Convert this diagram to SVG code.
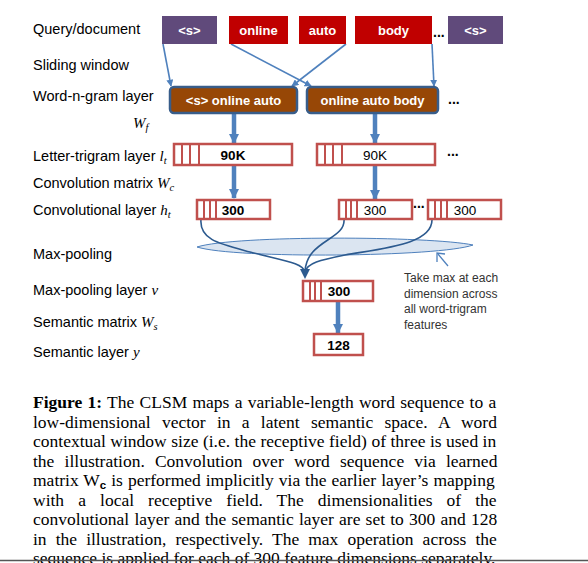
<svg xmlns="http://www.w3.org/2000/svg" width="588" height="563" viewBox="0 0 588 563">
<defs>
<marker id="ah" viewBox="0 0 10 10" refX="9" refY="5" markerWidth="7" markerHeight="7" markerUnits="userSpaceOnUse" orient="auto"><path d="M0,0 L10,5 L0,10 Z" fill="#4F81BD"/></marker>
<marker id="ahT" viewBox="0 0 10 10" refX="9" refY="5" markerWidth="10" markerHeight="10" markerUnits="userSpaceOnUse" orient="auto"><path d="M0,0 L10,5 L0,10 Z" fill="#4F81BD"/></marker>
</defs>
<style>
.lbl{font-family:"Liberation Sans",Arial,sans-serif;font-size:14.5px;fill:#000}
.math{font-family:"Liberation Serif","Times New Roman",serif;font-style:italic;font-size:15px}
.sub{font-family:"Liberation Serif","Times New Roman",serif;font-style:italic;font-size:10.5px}
.wbox{font-family:"Liberation Sans",Arial,sans-serif;font-size:13px;font-weight:bold;fill:#fff;text-anchor:middle}
.red{fill:#C00000}
.pur{fill:#604A7B}
.ng{fill:#974706;stroke:#385D8A;stroke-width:2.5}
.lay{fill:#fff;stroke:#C0504D;stroke-width:2.5}
.stripe{stroke:#C0504D;stroke-width:2}
.num{font-family:"Liberation Sans",Arial,sans-serif;font-size:13.5px;fill:#000;text-anchor:middle}
.b{font-weight:bold}
.dots{font-family:"Liberation Sans",Arial,sans-serif;font-size:14px;font-weight:bold;fill:#000}
.thin{stroke:#4F81BD;stroke-width:1.6;fill:none}
.thick{stroke:#4F81BD;stroke-width:4.5;fill:none}
.curve{stroke:#2C5A8F;stroke-width:1.6;fill:none}
.note{font-family:"Liberation Sans",Arial,sans-serif;font-size:12px;fill:#333}
.cap{font-family:"Liberation Serif","Times New Roman",serif;font-size:17.5px;fill:#000}
</style>
<rect width="588" height="563" fill="#fff"/>

<g id="labels">
<text class="lbl" x="33" y="34">Query/document</text>
<text class="lbl" x="33" y="70">Sliding window</text>
<text class="lbl" x="33" y="101">Word-n-gram layer</text>
<text class="lbl" x="33" y="161">Letter-trigram layer <tspan class="math">l</tspan><tspan class="sub" dy="3">t</tspan></text>
<text class="lbl" x="33" y="188">Convolution matrix <tspan class="math">W</tspan><tspan class="sub" dy="3">c</tspan></text>
<text class="lbl" x="33" y="215">Convolutional layer <tspan class="math">h</tspan><tspan class="sub" dy="3">t</tspan></text>
<text class="lbl" x="33" y="259">Max-pooling</text>
<text class="lbl" x="33" y="295">Max-pooling layer <tspan class="math">v</tspan></text>
<text class="lbl" x="33" y="327">Semantic matrix <tspan class="math">W</tspan><tspan class="sub" dy="3">s</tspan></text>
<text class="lbl" x="33" y="357">Semantic layer <tspan class="math">y</tspan></text>
<text class="math" x="133" y="128">W<tspan class="sub" dy="3">f</tspan></text>
</g>

<g id="connectors">
<line class="thin" x1="163" y1="44" x2="171" y2="86" marker-end="url(#ah)"/>
<line class="thin" x1="231" y1="44" x2="311" y2="86" marker-end="url(#ah)"/>
<line class="thin" x1="346" y1="44" x2="292" y2="86" marker-end="url(#ah)"/>
<line class="thin" x1="432" y1="44" x2="434" y2="86" marker-end="url(#ah)"/>
<line class="thick" x1="234" y1="113" x2="234" y2="143" marker-end="url(#ahT)"/>
<line class="thick" x1="375" y1="113" x2="375" y2="143" marker-end="url(#ahT)"/>
<line class="thick" x1="234" y1="165" x2="234" y2="198" marker-end="url(#ahT)"/>
<line class="thick" x1="375" y1="165" x2="375" y2="199" marker-end="url(#ahT)"/>
<line class="thick" x1="338" y1="301" x2="338" y2="333" marker-end="url(#ahT)"/>
<path d="M197,247 C235,235 430,236 473,245 C440,257 235,259 197,247 Z" fill="#DBE5F1" stroke="#4F81BD" stroke-width="1"/>
<path class="curve" d="M201,219 C199,240 220,244 250,252 C285,261 303,263 305,272"/>
<path class="curve" d="M344,219 C346,240 306,240 305,272"/>
<path class="curve" d="M432,219 C433,244 385,248 345,255 C320,260 307,263 305,272"/>
<path d="M300,269 L310,269 L305,279 Z" fill="#2C5A8F"/>
<line x1="448" y1="266" x2="438" y2="254" stroke="#4F81BD" stroke-width="1.3"/>
<path d="M437,262 L437,253 L445,254" fill="none" stroke="#4F81BD" stroke-width="1.3"/>
</g>

<g id="tok-s1"><rect class="pur" x="162" y="16" width="55" height="28"/><text class="wbox" x="189.5" y="35">&lt;s&gt;</text></g>
<g id="tok-online"><rect class="red" x="229" y="16" width="59" height="28"/><text class="wbox" x="258.5" y="35">online</text></g>
<g id="tok-auto"><rect class="red" x="299" y="16" width="47" height="28"/><text class="wbox" x="322.5" y="35">auto</text></g>
<g id="tok-body"><rect class="red" x="355" y="16" width="77" height="28"/><text class="wbox" x="393.5" y="35">body</text></g>
<g id="tok-dots"><text class="dots" x="433" y="37">...</text></g>
<g id="tok-s2"><rect class="pur" x="448" y="16" width="55" height="28"/><text class="wbox" x="475.5" y="35">&lt;s&gt;</text></g>

<g id="ngram1"><rect class="ng" x="170" y="87" width="127" height="26" rx="4"/><text class="wbox" x="233.5" y="105" font-size="13.5">&lt;s&gt; online auto</text></g>
<g id="ngram2"><rect class="ng" x="307" y="87" width="131" height="26" rx="4"/><text class="wbox" x="372.5" y="105" font-size="13.5">online auto body</text></g>
<g id="ngram-dots"><text class="dots" x="448" y="104">...</text></g>

<g id="trigram1"><rect class="lay" x="174" y="144" width="118" height="21"/><line class="stripe" x1="182" y1="144" x2="182" y2="165"/><line class="stripe" x1="190" y1="144" x2="190" y2="165"/><line class="stripe" x1="199" y1="144" x2="199" y2="165"/><text class="num b" x="233" y="159.5">90K</text></g>
<g id="trigram2"><rect class="lay" x="317" y="144" width="118" height="21"/><line class="stripe" x1="325" y1="144" x2="325" y2="165"/><line class="stripe" x1="333" y1="144" x2="333" y2="165"/><line class="stripe" x1="342" y1="144" x2="342" y2="165"/><text class="num" x="375" y="159.5">90K</text></g>
<g id="trigram-dots"><text class="dots" x="447" y="156">...</text></g>

<g id="conv1"><rect class="lay" x="197" y="200" width="73" height="19"/><line class="stripe" x1="204" y1="200" x2="204" y2="219"/><line class="stripe" x1="210" y1="200" x2="210" y2="219"/><line class="stripe" x1="216" y1="200" x2="216" y2="219"/><text class="num b" x="233" y="214.5">300</text></g>
<g id="conv2"><rect class="lay" x="339" y="200" width="73" height="19"/><line class="stripe" x1="346" y1="200" x2="346" y2="219"/><line class="stripe" x1="351" y1="200" x2="351" y2="219"/><line class="stripe" x1="357" y1="200" x2="357" y2="219"/><text class="num" x="375" y="214.5">300</text></g>
<g id="conv-dots"><text class="dots" x="413" y="208">...</text></g>
<g id="conv3"><rect class="lay" x="428" y="200" width="73" height="19"/><line class="stripe" x1="435" y1="200" x2="435" y2="219"/><line class="stripe" x1="441" y1="200" x2="441" y2="219"/><line class="stripe" x1="447" y1="200" x2="447" y2="219"/><text class="num" x="465" y="214.5">300</text></g>

<g id="maxpool"><rect class="lay" x="303" y="281" width="70" height="20"/><line class="stripe" x1="310" y1="281" x2="310" y2="301"/><line class="stripe" x1="315" y1="281" x2="315" y2="301"/><line class="stripe" x1="321" y1="281" x2="321" y2="301"/><text class="num b" x="339" y="296">300</text></g>
<g id="semantic"><rect class="lay" x="314" y="334" width="49" height="21"/><text class="num b" x="338.5" y="349.5">128</text></g>

<g id="note">
<text class="note" x="404" y="282">Take max at each</text>
<text class="note" x="404" y="298">dimension across</text>
<text class="note" x="404" y="313">all word-trigram</text>
<text class="note" x="404" y="329">features</text>
</g>

<g id="caption">
<text class="cap" x="33" y="408" word-spacing="0.9"><tspan font-weight="bold">Figure 1:</tspan> The CLSM maps a variable-length word sequence to a</text>
<text class="cap" x="33" y="427.5" word-spacing="6.9">low-dimensional vector in a latent semantic space. A word</text>
<text class="cap" x="33" y="447" word-spacing="0.1">contextual window size (i.e. the receptive field) of three is used in</text>
<text class="cap" x="33" y="466.5" word-spacing="5.8">the illustration. Convolution over word sequence via learned</text>
<text class="cap" x="33" y="486" word-spacing="0.6">matrix W<tspan font-family="Liberation Sans,sans-serif" font-size="11.5" font-weight="bold" dy="3">c</tspan><tspan dy="-3">  is performed implicitly via the earlier layer’s mapping</tspan></text>
<text class="cap" x="33" y="505.5" word-spacing="9.7">with a local receptive field. The dimensionalities of the</text>
<text class="cap" x="33" y="525" word-spacing="0.8">convolutional layer and the semantic layer are set to 300 and 128</text>
<text class="cap" x="33" y="544.5" word-spacing="4.7">in the illustration, respectively. The max operation across the</text>
<text class="cap" x="33" y="564">sequence is applied for each of 300 feature dimensions separately.</text>
<line x1="0" y1="560.5" x2="588" y2="560.5" stroke="#555" stroke-width="1.5"/>
</g>
</svg>
